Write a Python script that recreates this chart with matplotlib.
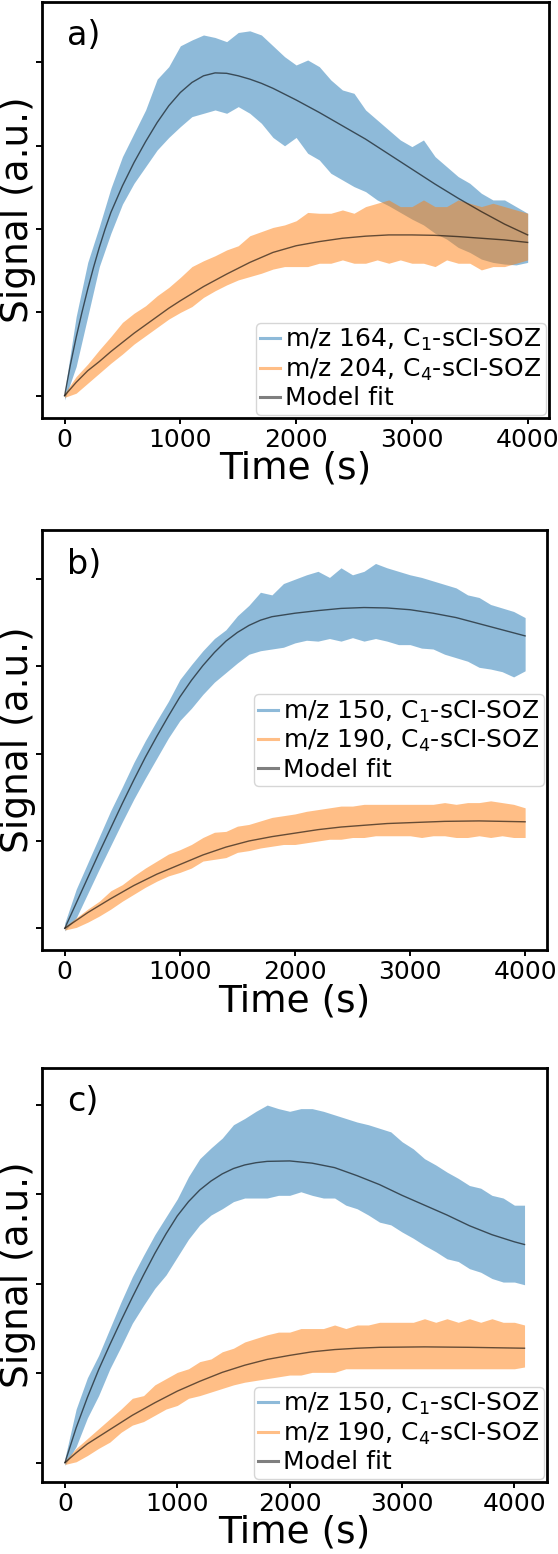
import matplotlib
matplotlib.use("Agg")
import matplotlib.pyplot as plt
from matplotlib.lines import Line2D

# ---------------- data ----------------
# times (s) at which the edges of the noisy signal bands were read
T_ENV_AB = list(range(0, 4001, 100))
T_ENV_C = list(range(0, 4001, 100)) + [4090]

# panel a) -- m/z 164 (blue) and m/z 204 (orange), upper / lower edge of the noisy trace
A_BLUE_HI = [0.05, 0.95, 1.60, 2.03, 2.49, 2.87, 3.15, 3.43, 3.80, 3.95, 4.20, 4.27, 4.33, 4.30,
             4.25, 4.36, 4.38, 4.33, 4.20, 4.07, 3.97, 4.03, 3.95, 3.79, 3.67, 3.63, 3.43, 3.31,
             3.19, 3.07, 2.99, 3.07, 2.87, 2.75, 2.63, 2.55, 2.43, 2.35, 2.35, 2.27, 2.19]
A_BLUE_LO = [-0.05, 0.35, 0.95, 1.55, 1.95, 2.30, 2.55, 2.75, 2.95, 3.10, 3.23, 3.35, 3.39, 3.43,
             3.39, 3.47, 3.39, 3.27, 3.10, 3.00, 3.10, 2.91, 2.83, 2.67, 2.59, 2.51, 2.45, 2.35,
             2.28, 2.20, 2.12, 2.05, 1.95, 1.88, 1.78, 1.72, 1.64, 1.60, 1.58, 1.57, 1.60]
A_ORANGE_HI = [0.03, 0.23, 0.38, 0.55, 0.71, 0.88, 0.99, 1.08, 1.20, 1.30, 1.42, 1.55, 1.62, 1.68,
               1.75, 1.80, 1.92, 1.97, 2.02, 2.05, 2.10, 2.20, 2.19, 2.19, 2.23, 2.19, 2.27, 2.31,
               2.35, 2.27, 2.27, 2.35, 2.27, 2.27, 2.35, 2.31, 2.27, 2.31, 2.27, 2.23, 2.19]
A_ORANGE_LO = [-0.02, 0.03, 0.15, 0.27, 0.39, 0.50, 0.62, 0.72, 0.82, 0.92, 1.00, 1.07, 1.18, 1.26,
               1.33, 1.39, 1.43, 1.47, 1.52, 1.55, 1.55, 1.55, 1.59, 1.59, 1.63, 1.59, 1.59, 1.63,
               1.59, 1.63, 1.59, 1.59, 1.55, 1.63, 1.59, 1.59, 1.51, 1.55, 1.55, 1.59, 1.63]
A_FIT_BLUE_T = [0, 50, 100, 150, 200, 250, 300, 350, 400, 500, 600, 700, 800, 900, 1000, 1100,
                1200, 1300, 1400, 1500, 1600, 1700, 1800, 1900, 2000, 2200, 2400, 2600, 2800,
                3000, 3200, 3400, 3600, 3800, 4000]
A_FIT_BLUE = [0, 0.37, 0.70, 1.00, 1.28, 1.54, 1.78, 2.00, 2.20, 2.52, 2.80, 3.05, 3.28, 3.48,
              3.64, 3.76, 3.84, 3.875, 3.87, 3.84, 3.80, 3.75, 3.69, 3.62, 3.55, 3.40, 3.24,
              3.08, 2.90, 2.72, 2.54, 2.37, 2.21, 2.06, 1.93]
A_FIT_ORANGE_T = [0, 100, 200, 300, 400, 500, 600, 700, 800, 900, 1000, 1200, 1400, 1600, 1800,
                  2000, 2200, 2400, 2600, 2800, 3000, 3200, 3400, 3600, 3800, 4000]
A_FIT_ORANGE = [0, 0.16, 0.30, 0.41, 0.53, 0.64, 0.75, 0.85, 0.95, 1.05, 1.14, 1.31, 1.46, 1.60,
                1.72, 1.80, 1.85, 1.89, 1.915, 1.93, 1.93, 1.925, 1.91, 1.89, 1.87, 1.84]

# panel b) -- m/z 150 (blue) and m/z 190 (orange)
B_BLUE_HI = [0.06, 0.45, 0.75, 1.05, 1.35, 1.62, 1.90, 2.15, 2.38, 2.60, 2.85, 3.02, 3.18, 3.32,
             3.42, 3.58, 3.70, 3.85, 3.82, 3.95, 4.00, 4.05, 4.09, 4.02, 4.13, 4.05, 4.09, 4.18,
             4.13, 4.09, 4.05, 4.02, 3.98, 3.94, 3.90, 3.82, 3.79, 3.71, 3.67, 3.63, 3.56]
B_BLUE_LO = [-0.03, 0.12, 0.40, 0.68, 0.95, 1.22, 1.48, 1.72, 1.95, 2.18, 2.38, 2.52, 2.68, 2.82,
             2.93, 3.04, 3.14, 3.18, 3.20, 3.22, 3.27, 3.30, 3.29, 3.32, 3.29, 3.33, 3.29, 3.32,
             3.29, 3.25, 3.25, 3.21, 3.20, 3.14, 3.10, 3.06, 2.99, 2.97, 2.94, 2.88, 2.95]
B_ORANGE_HI = [0.02, 0.12, 0.22, 0.31, 0.43, 0.50, 0.60, 0.69, 0.77, 0.85, 0.90, 0.96, 1.04, 1.10,
               1.11, 1.17, 1.19, 1.23, 1.27, 1.29, 1.31, 1.34, 1.36, 1.38, 1.40, 1.40, 1.42, 1.42,
               1.42, 1.42, 1.42, 1.42, 1.42, 1.44, 1.42, 1.44, 1.44, 1.46, 1.44, 1.42, 1.38]
B_ORANGE_LO = [-0.02, 0.01, 0.07, 0.14, 0.22, 0.31, 0.39, 0.47, 0.54, 0.60, 0.64, 0.69, 0.77, 0.79,
               0.81, 0.87, 0.89, 0.92, 0.94, 0.96, 0.96, 0.98, 1.00, 1.02, 1.02, 1.04, 1.04, 1.06,
               1.06, 1.06, 1.06, 1.04, 1.06, 1.06, 1.04, 1.04, 1.06, 1.04, 1.06, 1.04, 1.04]
B_FIT_BLUE_T = [0, 100, 200, 300, 400, 500, 600, 700, 800, 900, 1000, 1100, 1200, 1300, 1400,
                1500, 1600, 1700, 1800, 2000, 2200, 2400, 2600, 2800, 3000, 3200, 3400, 3600,
                3800, 4000]
B_FIT_BLUE = [0, 0.29, 0.58, 0.87, 1.15, 1.43, 1.70, 1.96, 2.20, 2.43, 2.65, 2.84, 3.01, 3.16,
              3.29, 3.39, 3.47, 3.53, 3.57, 3.61, 3.64, 3.665, 3.675, 3.67, 3.65, 3.61, 3.56,
              3.49, 3.42, 3.35]
B_FIT_ORANGE_T = [0, 100, 200, 400, 600, 800, 1000, 1200, 1400, 1600, 1800, 2000, 2200, 2400,
                  2600, 2800, 3000, 3300, 3600, 4000]
B_FIT_ORANGE = [0, 0.09, 0.18, 0.34, 0.49, 0.62, 0.73, 0.84, 0.93, 1.00, 1.05, 1.09, 1.13, 1.16,
                1.18, 1.20, 1.21, 1.225, 1.23, 1.22]

# panel c) -- m/z 150 (blue) and m/z 190 (orange)
C_BLUE_HI = [0.05, 0.60, 0.95, 1.20, 1.50, 1.80, 2.08, 2.32, 2.55, 2.75, 2.95, 3.20, 3.40, 3.52,
             3.63, 3.78, 3.85, 3.93, 4.00, 3.96, 3.93, 3.96, 3.96, 3.93, 3.89, 3.85, 3.81, 3.78,
             3.74, 3.70, 3.59, 3.51, 3.40, 3.33, 3.25, 3.18, 3.10, 3.07, 2.99, 2.96, 2.88, 2.88]
C_BLUE_LO = [-0.03, 0.18, 0.50, 0.75, 1.05, 1.30, 1.56, 1.76, 1.95, 2.10, 2.30, 2.50, 2.66, 2.77,
             2.84, 2.92, 2.96, 2.96, 2.96, 2.99, 2.99, 3.03, 2.99, 2.96, 2.96, 2.88, 2.84, 2.77,
             2.69, 2.66, 2.58, 2.51, 2.43, 2.36, 2.28, 2.25, 2.17, 2.13, 2.06, 2.02, 2.02, 1.99]
C_ORANGE_HI = [0.02, 0.16, 0.27, 0.38, 0.49, 0.60, 0.72, 0.75, 0.87, 0.94, 1.01, 1.05, 1.13, 1.16,
               1.24, 1.28, 1.35, 1.39, 1.43, 1.46, 1.46, 1.50, 1.50, 1.50, 1.54, 1.50, 1.54, 1.54,
               1.57, 1.57, 1.57, 1.57, 1.61, 1.57, 1.61, 1.57, 1.61, 1.57, 1.61, 1.57, 1.57, 1.54]
C_ORANGE_LO = [-0.02, 0.01, 0.08, 0.16, 0.23, 0.34, 0.42, 0.46, 0.53, 0.60, 0.64, 0.72, 0.75, 0.79,
               0.83, 0.87, 0.90, 0.92, 0.94, 0.96, 0.98, 0.98, 1.01, 1.01, 1.01, 1.05, 1.05, 1.05,
               1.05, 1.05, 1.05, 1.05, 1.05, 1.05, 1.05, 1.05, 1.05, 1.05, 1.05, 1.05, 1.05, 1.07]
C_FIT_BLUE_T = [0, 100, 200, 300, 400, 500, 600, 700, 800, 900, 1000, 1100, 1200, 1300, 1400,
                1500, 1600, 1700, 1800, 2000, 2200, 2400, 2600, 2800, 3000, 3200, 3400, 3600,
                3800, 4000, 4090]
C_FIT_BLUE = [0, 0.39, 0.73, 1.04, 1.32, 1.59, 1.85, 2.10, 2.34, 2.56, 2.76, 2.92, 3.05, 3.15,
              3.23, 3.29, 3.33, 3.355, 3.37, 3.375, 3.35, 3.30, 3.21, 3.11, 2.99, 2.88, 2.77,
              2.65, 2.55, 2.47, 2.44]
C_FIT_ORANGE_T = [0, 100, 200, 400, 600, 800, 1000, 1200, 1400, 1600, 1800, 2000, 2200, 2400,
                  2600, 2800, 3200, 3600, 4090]
C_FIT_ORANGE = [0, 0.11, 0.21, 0.37, 0.53, 0.67, 0.80, 0.91, 1.01, 1.09, 1.155, 1.20, 1.24, 1.265,
                1.28, 1.29, 1.295, 1.29, 1.28]

X_TICKS = [0, 1000, 2000, 3000, 4000]
Y_TICKS = [0, 1, 2, 3, 4]
PANEL_LABELS = ["a)", "b)", "c)"]
LEGEND_A = ["m/z 164, C$_1$-sCI-SOZ", "m/z 204, C$_4$-sCI-SOZ", "Model fit"]
LEGEND_BC = ["m/z 150, C$_1$-sCI-SOZ", "m/z 190, C$_4$-sCI-SOZ", "Model fit"]

# ---------------- figure ----------------
W, H = 558, 1554
fig = plt.figure(figsize=(W / 100, H / 100), dpi=100)

def rect(l, r, t, b):
    return [l / W, 1 - b / H, (r - l) / W, (b - t) / H]

panels = [
    dict(rect=rect(42, 548.5, 2, 417.7), t=T_ENV_AB, bh=A_BLUE_HI, bl=A_BLUE_LO,
         oh=A_ORANGE_HI, ol=A_ORANGE_LO, fbt=A_FIT_BLUE_T, fb=A_FIT_BLUE,
         fot=A_FIT_ORANGE_T, fo=A_FIT_ORANGE, xlim=(-195, 4180), ylim=(-0.264, 4.726),
         labels=LEGEND_A, loc="lower right"),
    dict(rect=rect(42, 547, 530.3, 950), t=T_ENV_AB, bh=B_BLUE_HI, bl=B_BLUE_LO,
         oh=B_ORANGE_HI, ol=B_ORANGE_LO, fbt=B_FIT_BLUE_T, fb=B_FIT_BLUE,
         fot=B_FIT_ORANGE_T, fo=B_FIT_ORANGE, xlim=(-198, 4190), ylim=(-0.249, 4.56),
         labels=LEGEND_BC, loc="center right"),
    dict(rect=rect(42, 547, 1067.5, 1481.7), t=T_ENV_C, bh=C_BLUE_HI, bl=C_BLUE_LO,
         oh=C_ORANGE_HI, ol=C_ORANGE_LO, fbt=C_FIT_BLUE_T, fb=C_FIT_BLUE,
         fot=C_FIT_ORANGE_T, fo=C_FIT_ORANGE, xlim=(-204, 4290), ylim=(-0.213, 4.42),
         labels=LEGEND_BC, loc="lower right"),
]

for p, plabel in zip(panels, PANEL_LABELS):
    ax = fig.add_axes(p["rect"])
    ax.fill_between(p["t"], p["bl"], p["bh"], color="C0", alpha=0.5, linewidth=0)
    ax.fill_between(p["t"], p["ol"], p["oh"], color="C1", alpha=0.5, linewidth=0)
    ax.plot(p["fbt"], p["fb"], color="k", alpha=0.6, lw=1.0)
    ax.plot(p["fot"], p["fo"], color="k", alpha=0.6, lw=1.0)
    ax.set_xlim(*p["xlim"])
    ax.set_ylim(*p["ylim"])
    ax.set_xticks(X_TICKS)
    ax.set_yticks(Y_TICKS)
    ax.set_yticklabels([])
    ax.tick_params(direction="out", length=4.5, width=1.4, labelsize=18, pad=3)
    for s in ax.spines.values():
        s.set_linewidth(2)
    ax.set_xlabel("Time (s)", fontsize=27)
    ax.xaxis.set_label_coords(0.5, -0.08)
    ax.set_ylabel("Signal (a.u.)", fontsize=27)
    ax.yaxis.set_label_coords(-0.011, 0.5)
    ax.text(0.05, 0.896, plabel, transform=ax.transAxes, fontsize=24, va="baseline")
    handles = [Line2D([], [], color="C0", alpha=0.5, lw=2.2),
               Line2D([], [], color="C1", alpha=0.5, lw=2.2),
               Line2D([], [], color="k", alpha=0.5, lw=2.2)]
    ax.legend(handles, p["labels"], loc=p["loc"], fontsize=18, handlelength=0.8,
              handletextpad=0.2, borderpad=0.17, labelspacing=0.14, borderaxespad=0.12)

fig.savefig("out.png", dpi=100)
